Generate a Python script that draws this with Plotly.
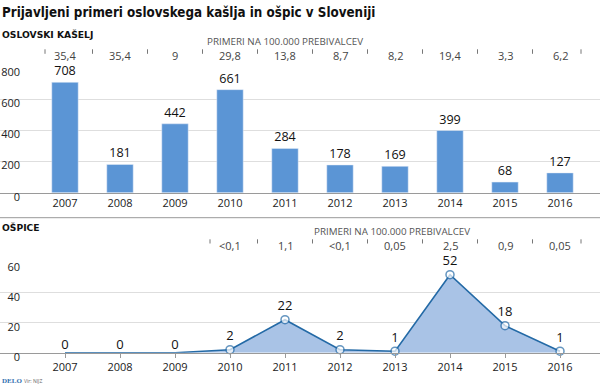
import plotly.graph_objects as go

years = ["2007", "2008", "2009", "2010", "2011", "2012", "2013", "2014", "2015", "2016"]
pertussis = [708, 181, 442, 661, 284, 178, 169, 399, 68, 127]
pertussis_rate = ["35,4", "35,4", "9", "29,8", "13,8", "8,7", "8,2", "19,4", "3,3", "6,2"]
measles = [0, 0, 0, 2, 22, 2, 1, 52, 18, 1]
measles_rate = [None, None, None, "<0,1", "1,1", "<0,1", "0,05", "2,5", "0,9", "0,05"]

W, H = 600, 386
FONT = "Open Sans, Noto Sans, sans-serif"
COND = "DejaVu Sans Condensed, DejaVu Sans, sans-serif"
WIDE = "DejaVu Sans, sans-serif"
BAR = "#5b95d5"
LINE = "#246aa6"
FILL = "#a9c3e6"
GRID = "#dedede"
AXIS = "#9a9a9a"

def py(p):
    return 1 - p / H

xi = list(range(len(years)))
xrange_ = [-65 / 55, 535 / 55]

fig = go.Figure()

fig.add_trace(go.Bar(
    x=xi, y=pertussis, width=0.48, marker_color=BAR,
    text=[str(v) for v in pertussis], textposition="outside",
    textfont=dict(family=FONT, size=12.6, color="#111"),
    cliponaxis=False, xaxis="x", yaxis="y", showlegend=False, hoverinfo="skip",
))

marker_sizes = [0 if v == 0 and i < 3 else 8 for i, v in enumerate(measles)]
fig.add_trace(go.Scatter(
    x=xi, y=measles, mode="lines+markers+text", fill="tozeroy",
    fillcolor=FILL, line=dict(color=LINE, width=1.6),
    marker=dict(size=marker_sizes, color="white", line=dict(color=LINE, width=1.5)),
    text=[str(v) for v in measles], textposition="top center",
    textfont=dict(family=FONT, size=13, color="#111"),
    cliponaxis=False, xaxis="x2", yaxis="y2", showlegend=False, hoverinfo="skip",
))

common_x = dict(
    range=xrange_, tickmode="array", tickvals=xi, ticktext=years,
    showgrid=False, zeroline=False, showline=True, linecolor=AXIS, linewidth=1,
    tickfont=dict(family=FONT, size=11, color="#222"), domain=[0, 1],
    automargin=False,
)
common_y = dict(
    showgrid=True, gridcolor=GRID, gridwidth=1, zeroline=False, showline=False,
    tickfont=dict(family=FONT, size=11, color="#222"),
    ticks="", ticklabelposition="outside", ticklabelstandoff=-21, ticklabelshift=4,
    automargin=False,
)

fig.update_layout(
    width=W, height=H, margin=dict(l=0, r=0, t=0, b=0, pad=0),
    paper_bgcolor="white", plot_bgcolor="white",
    xaxis=dict(**common_x, anchor="y", ticks="", ticklen=0),
    yaxis=dict(**common_y, domain=[py(192.7), py(68)], range=[0, 800],
               tickvals=[0, 200, 400, 600, 800]),
    xaxis2=dict(**common_x, anchor="y2", ticks="outside", ticklen=4, tickcolor=AXIS),
    yaxis2=dict(**common_y, domain=[py(352.7), py(262.7)], range=[0, 60],
                tickvals=[0, 20, 40, 60]),
    bargap=0.5,
)

ann = []
ann.append(dict(text="<b>Prijavljeni primeri oslovskega kašlja in ošpic v Sloveniji</b>",
                x=0, y=py(12), xref="paper", yref="paper", xanchor="left", yanchor="middle",
                showarrow=False, font=dict(family=COND, size=13.3, color="#111")))
ann.append(dict(text="<b>OSLOVSKI KAŠELJ</b>", x=0, y=py(34.5), xref="paper", yref="paper",
                xanchor="left", yanchor="middle", showarrow=False,
                font=dict(family=WIDE, size=9.2, color="#111")))
ann.append(dict(text="PRIMERI NA 100.000 PREBIVALCEV", x=285 / W, y=py(41), xref="paper",
                yref="paper", xanchor="center", yanchor="middle", showarrow=False,
                font=dict(family=FONT, size=9.8, color="#555")))
ann.append(dict(text="<b>OŠPICE</b>", x=0, y=py(227.5), xref="paper", yref="paper",
                xanchor="left", yanchor="middle", showarrow=False,
                font=dict(family=WIDE, size=9.2, color="#111")))
ann.append(dict(text="PRIMERI NA 100.000 PREBIVALCEV", x=392 / W, y=py(231.5), xref="paper",
                yref="paper", xanchor="center", yanchor="middle", showarrow=False,
                font=dict(family=FONT, size=9.8, color="#555")))
for i, r in enumerate(pertussis_rate):
    ann.append(dict(text=r, x=i, y=py(55.5), xref="x", yref="paper", xanchor="center",
                    yanchor="middle", showarrow=False,
                    font=dict(family=FONT, size=11, color="#444")))
for i, r in enumerate(measles_rate):
    if r is None:
        continue
    ann.append(dict(text=r, x=i, y=py(245.5), xref="x2", yref="paper", xanchor="center",
                    yanchor="middle", showarrow=False,
                    font=dict(family=FONT, size=11, color="#444")))
ann.append(dict(text="<b>DELO</b>", x=0, y=py(380.5), xref="paper", yref="paper",
                xanchor="left", yanchor="middle", showarrow=False,
                font=dict(family="Liberation Serif, serif", size=7, color="#2f6fb0")))
ann.append(dict(text="Vir: NIJZ", x=22 / W, y=py(380.5), xref="paper", yref="paper",
                xanchor="left", yanchor="middle", showarrow=False,
                font=dict(family=FONT, size=5, color="#666")))

shapes = []
top_edges = [(45 - 65) / 55] + [i + 0.5 for i in range(9)] + [(581 - 65) / 55]
for xv in top_edges:
    shapes.append(dict(type="line", xref="x", yref="paper", x0=xv, x1=xv,
                       y0=py(53.8), y1=py(49.3), line=dict(color="#777", width=1)))
bot_edges = [(210 - 65) / 55] + [i + 0.5 for i in range(3, 9)] + [(581 - 65) / 55]
for xv in bot_edges:
    shapes.append(dict(type="line", xref="x2", yref="paper", x0=xv, x1=xv,
                       y0=py(243.5), y1=py(239.3), line=dict(color="#777", width=1)))
shapes.append(dict(type="line", xref="paper", yref="paper", x0=0, x1=1,
                   y0=py(217.7), y1=py(217.7), line=dict(color="#999", width=1)))

fig.update_layout(annotations=ann, shapes=shapes)
fig.write_html("out.html", config={"displayModeBar": False},
               post_script="document.body.style.margin='0';document.body.style.overflow='hidden';")
